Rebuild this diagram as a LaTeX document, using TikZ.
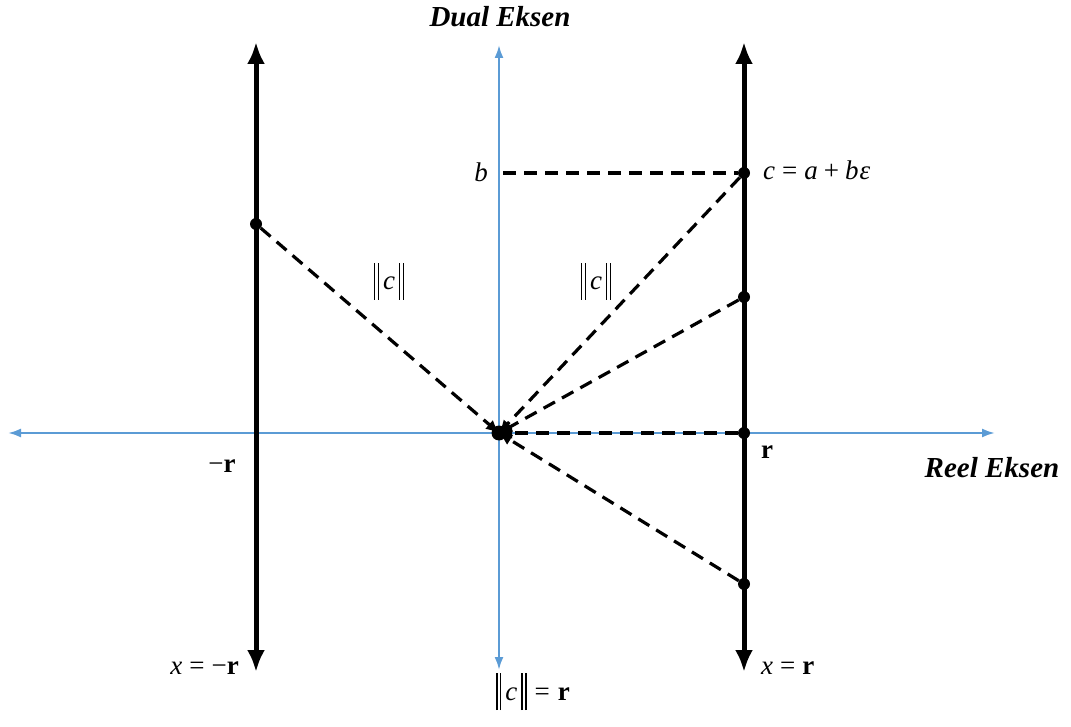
\documentclass[tikz,border=0pt]{standalone}
\usepackage{fontspec}
\setmainfont{Liberation Serif}
\usetikzlibrary{arrows.meta}
\definecolor{axisblue}{RGB}{91,155,213}
\newcommand{\nbar}{\rule[-10pt]{1.4pt}{37pt}\hspace{2.4pt}\rule[-10pt]{1.4pt}{37pt}}
\newcommand{\nrm}[1]{\nbar\hspace{4pt}#1\hspace{4pt}\nbar}
\newcommand{\eqs}{\hspace{7pt}=\hspace{7pt}}

\begin{document}
\begin{tikzpicture}[x=1pt, y=-1pt,
  axisline/.style={draw=axisblue, line width=2.2pt,
                   {Latex[length=13pt,width=9pt]}-{Latex[length=13pt,width=9pt]}},
  boundline/.style={draw, line width=5pt,
                    {Latex[length=22pt,width=18pt]}-{Latex[length=22pt,width=18pt]}},
  normline/.style={draw, line width=3.2pt, dash pattern=on 13pt off 8pt,
                   -{Latex[length=13pt,width=12pt]}},
  dot/.style={circle, fill, inner sep=0pt, minimum size=12pt},
  axislabel/.style={font=\fontsize{29}{33}\selectfont\bfseries\itshape},
  mathlabel/.style={font=\fontsize{27}{31}\selectfont, inner sep=1pt},
]
  \useasboundingbox (0,0) rectangle (1071,727);
  % axes
  \coordinate (xl) at (8,433);
  \coordinate (xr) at (995,433);
  \coordinate (yt) at (499,45);
  \coordinate (yb) at (499,670);
  \draw[axisline] (xl) -- (xr);
  \draw[axisline] (yb) -- (yt);
  % lines x = -r and x = r
  \coordinate (lt) at (256,42);
  \coordinate (lb) at (256,672);
  \coordinate (rt) at (744,42);
  \coordinate (rb) at (744,672);
  \draw[boundline] (lb) -- (lt);
  \draw[boundline] (rb) -- (rt);
  % points
  \node[dot, minimum size=15pt] (O) at (499,433) {};
  \node[dot] (pL) at (256,224) {};
  \node[dot] (pC) at (744,173) {};
  \node[dot] (pM) at (744,297) {};
  \node[dot] (pR) at (744,433) {};
  \node[dot] (pD) at (744,584) {};
  \coordinate (pB) at (503,173);
  % dashed norms
  \foreach \p in {pL,pC,pM,pR,pD}
    \draw[normline] (\p) -- (O.center);
  \draw[line width=3.2pt, dash pattern=on 13pt off 8pt] (pB) -- (pC);
  % labels
  \node[axislabel] (ydual) at (500,17) {Dual Eksen};
  \node[axislabel] (xreel) at (992,468) {Reel Eksen};
  \node[mathlabel] (lbb) at (481,172) {\textit{b}};
  \node[mathlabel, anchor=west] (lc) at (762,170) {\textit{c}\eqs\textit{a}\hspace{6pt}+\hspace{6pt}\textit{b}\hspace{1pt}\textit{ε}};
  \node[mathlabel, anchor=base] (ln1) at (389,290) {\nrm{\textit{c}}};
  \node[mathlabel, anchor=base] (ln2) at (596,290) {\nrm{\textit{c}}};
  \node[mathlabel] (lmr) at (222,466) {−\textbf{r}};
  \node[mathlabel] (lr) at (767,452) {\textbf{r}};
  \node[mathlabel, anchor=east] (lxl) at (240,668) {\textit{x}\eqs−\textbf{r}};
  \node[mathlabel, anchor=west] (lxr) at (760,668) {\textit{x}\eqs\textbf{r}};
  \node[mathlabel, anchor=base] (lnr) at (533,700) {\nrm{\textit{c}}\hspace{8pt}=\hspace{8pt}\textbf{r}};
\end{tikzpicture}
\end{document}
